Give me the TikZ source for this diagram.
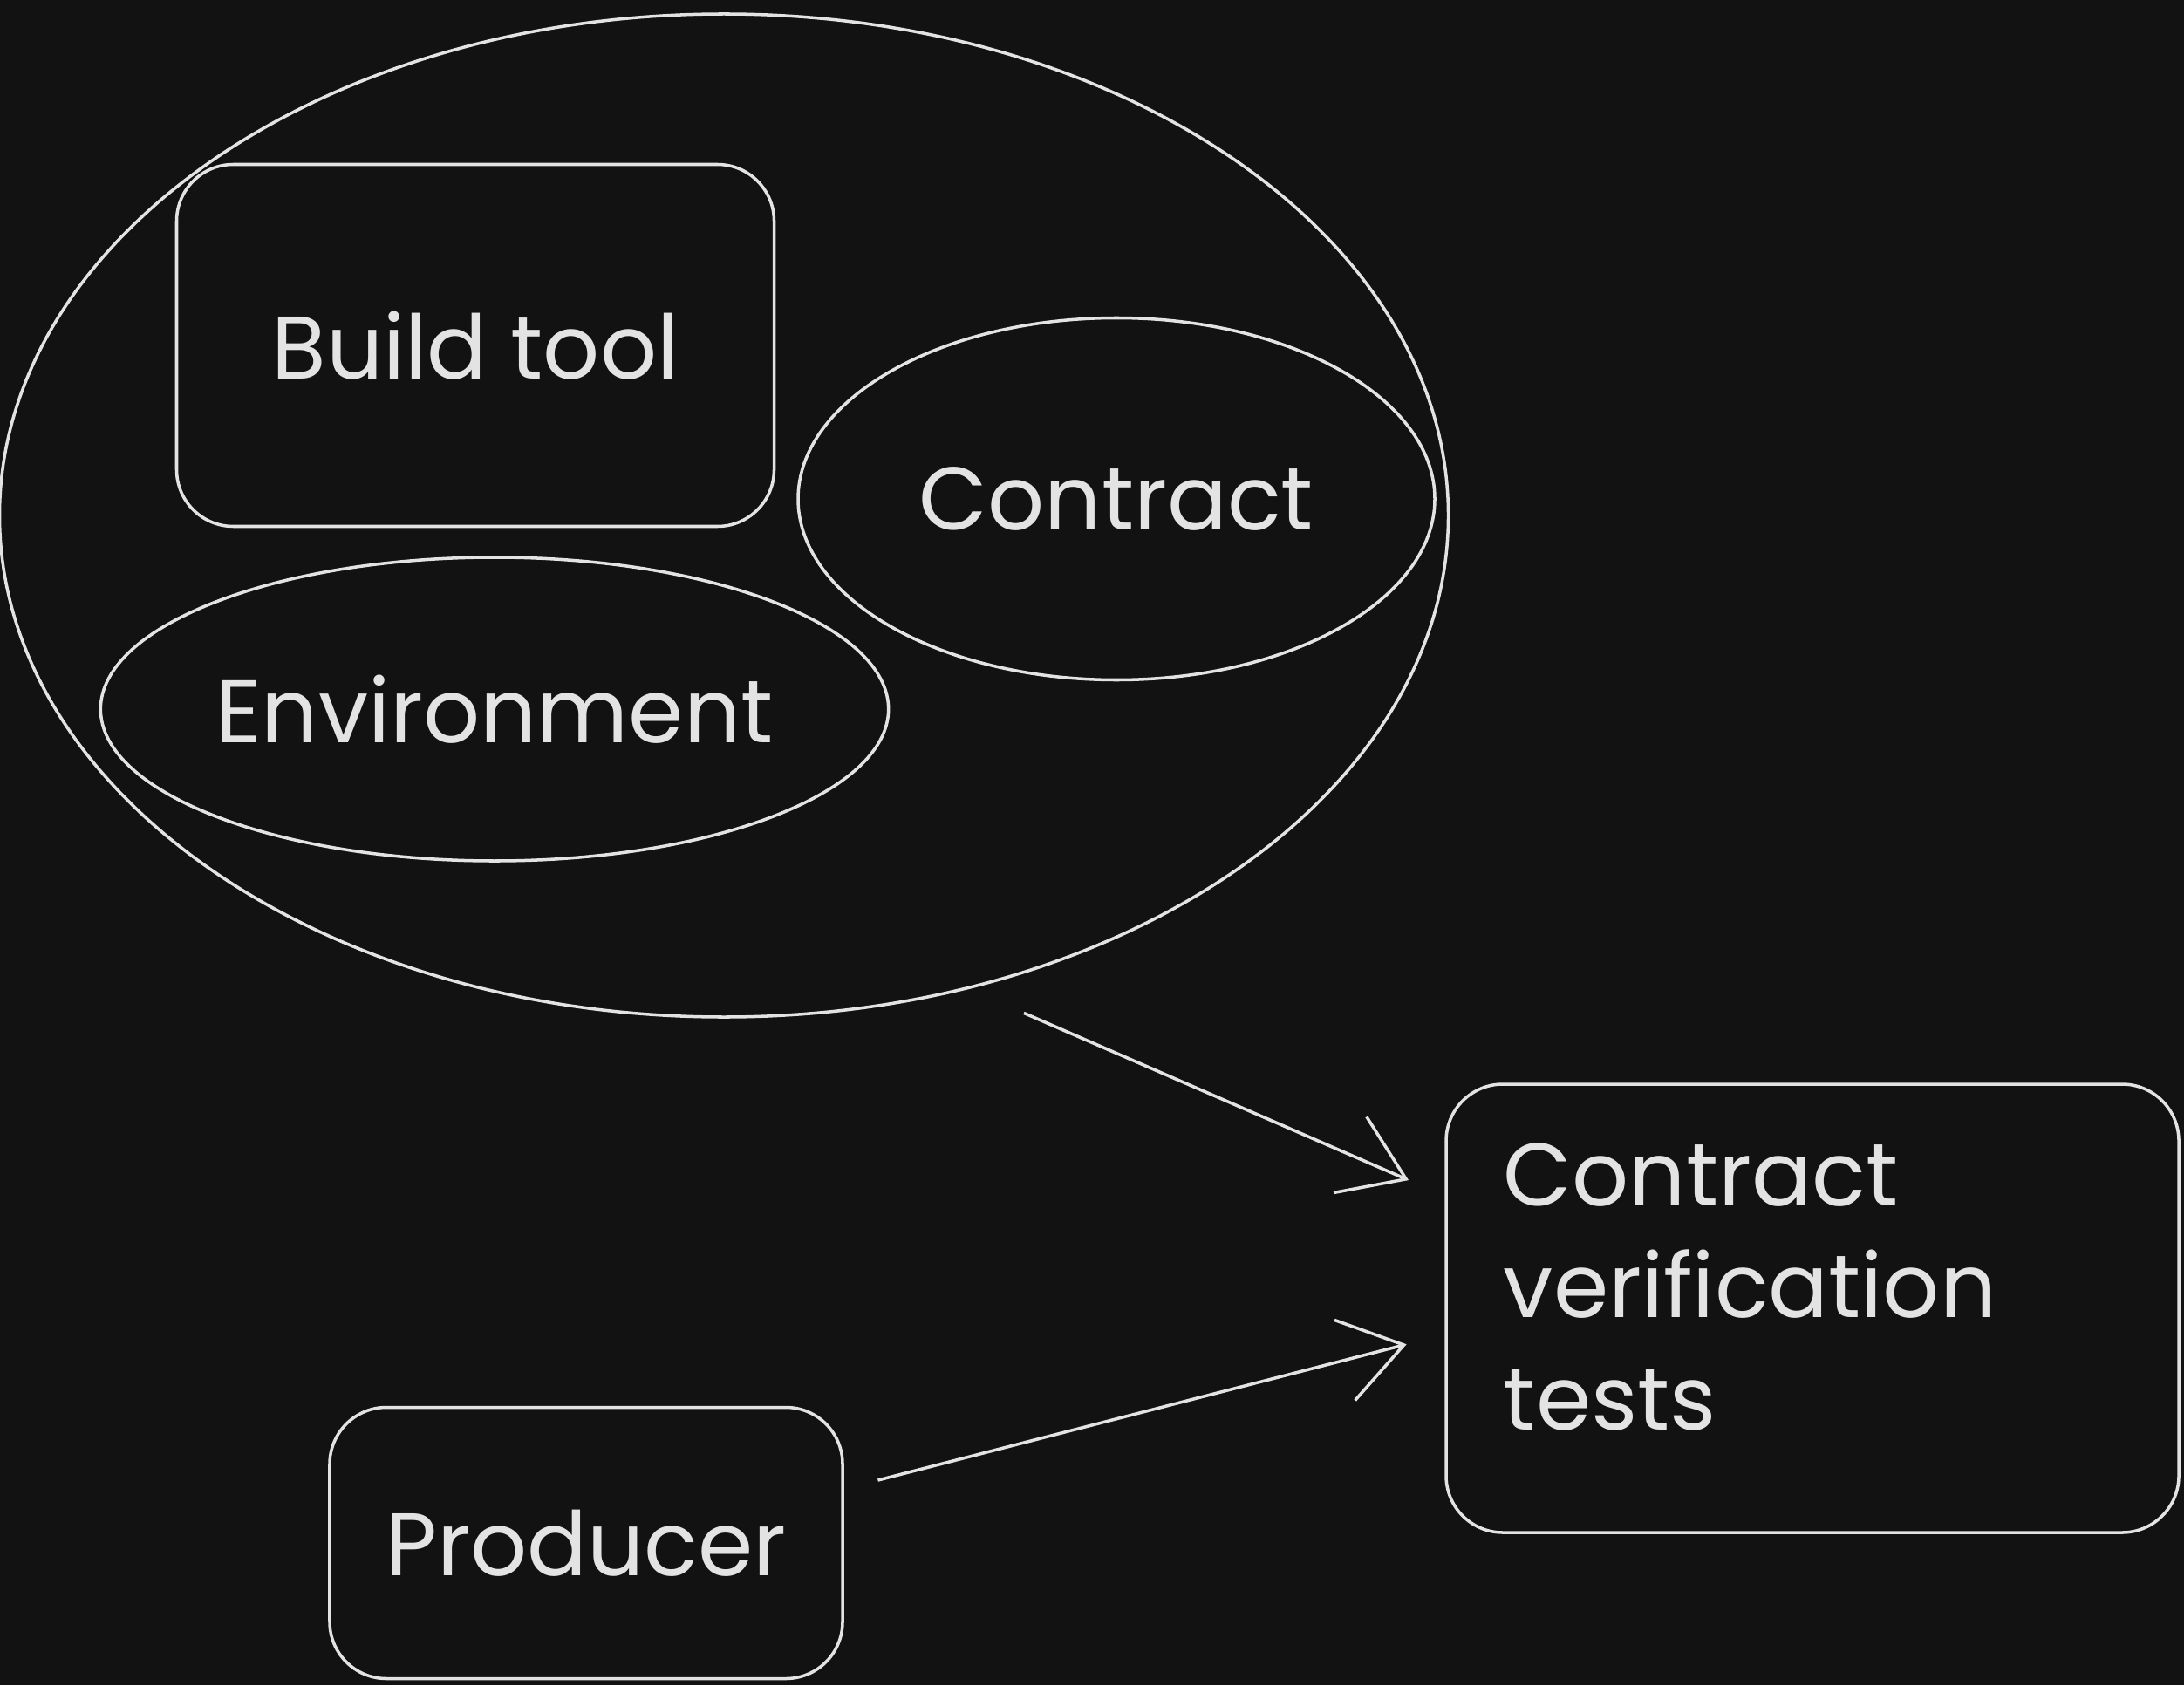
\documentclass[tikz,border=0pt]{standalone}
\usepackage{fontspec}
\setmainfont{Poppins}
\usetikzlibrary{shapes.geometric,arrows.meta,calc}
\definecolor{bgc}{HTML}{121212}
\definecolor{ink}{HTML}{E3E3E3}
\tikzset{
  txt/.style={text=ink, font=\fontsize{29}{36.5}\selectfont},
  sketch/.style={draw=ink, line width=1pt, txt},
  boxr/.style={sketch, rectangle, rounded corners=0.65cm},
  oval/.style={sketch, ellipse, inner sep=0pt},
  arr/.style={draw=ink, line width=1pt, -{Straight Barb[length=0.7cm,width=0.95cm,line width=1pt]}},
}
\begin{document}
\begin{tikzpicture}
\fill[bgc] (0,0) rectangle (25.04,-19.32);
\useasboundingbox (0,0) rectangle (25.04,-19.32);
\node[oval, minimum width=16.61cm, minimum height=11.50cm] (outer) at (8.30,-5.91) {};
\node[boxr, minimum width=6.85cm, minimum height=4.15cm] (build) at (5.45,-3.96) {Build tool};
\node[oval, minimum width=7.30cm, minimum height=4.15cm] (contract) at (12.80,-5.72) {Contract};
\node[oval, minimum width=8.91cm, minimum height=3.48cm] (env) at (5.67,-8.13) {Environment};
\node[boxr, minimum width=8.40cm, minimum height=5.14cm] (cvt) at (20.78,-15.00) {};
\node[txt, align=left, anchor=base west, inner sep=0pt] (cvtlabel) at ([xshift=0.67cm,yshift=-3.98cm]cvt.north west) {Contract\\verification\\tests};
\node[boxr, minimum width=5.88cm, minimum height=3.11cm] (prod) at (6.72,-17.69) {Producer};
\draw[arr, shorten >=0.45cm] ([shift={(0.24,-0.38)}]outer.-59) -- ([yshift=1.29cm]cvt.west);
\draw[arr, shorten <=0.4cm, shorten >=0.45cm] ([yshift=0.62cm]prod.east) -- ([yshift=-0.30cm]cvt.west);
\end{tikzpicture}
\end{document}
